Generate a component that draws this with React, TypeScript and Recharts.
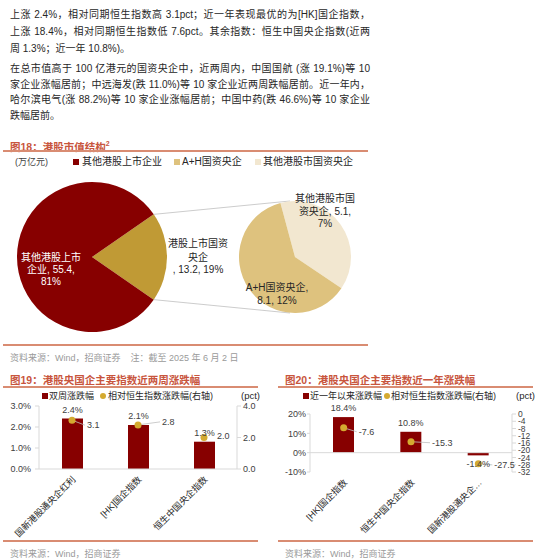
import React from 'react';
import {
  PieChart, Pie, Cell, ComposedChart, Bar, Scatter, XAxis, YAxis,
  LabelList, ReferenceLine, Customized,
} from 'recharts';

const FONT = '"Liberation Sans", "Noto Sans CJK SC", sans-serif';

// 图18 港股市值结构（万亿元）
const capNames = ['港股上市国资央企', '其他港股上市企业'];
const capValues = [13.2, 55.4];
const soeNames = ['其他港股市国资央企', 'A+H国资央企'];
const soeValues = [5.1, 8.1];

// 图19 近两周涨跌幅
const twoWeekIndex = ['国新港股通央企红利', '[HK]国企指数', '恒生中国央企指数'];
const twoWeekChg = [2.4, 2.1, 1.3];
const twoWeekRel = [3.1, 2.8, 2.0];

// 图20 近一年涨跌幅
const yearIndex = ['[HK]国企指数', '恒生中国央企指数', '国新港股通央企红利'];
const yearChg = [18.4, 10.8, -1.4];
const yearRel = [-7.6, -15.3, -27.5];

const leftTicks19 = [0, 1, 2, 3];
const rightTicks19 = [0, 2, 4];
const leftTicks20 = [-10, 0, 10, 20];
const rightTicks20 = [0, -4, -8, -12, -16, -20, -24, -28, -32];

const capTotal = capValues.reduce((a, b) => a + b, 0);
const capData = capNames.map((name, i) => ({ name, value: capValues[i] }));
const soeData = soeNames.map((name, i) => ({ name, value: soeValues[i] }));
const twoWeekData = twoWeekIndex.map((name, i) => ({ name, chg: twoWeekChg[i], rel: twoWeekRel[i] }));
const yearData = yearIndex.map((name, i) => ({ name, chg: yearChg[i], rel: yearRel[i] }));

const RED = '#870000';
const GOLD = '#C09A35';
const AH = '#DEC27E';
const LIGHT = '#F2E7D0';
const DOT = '#D4AA30';
const HEAD = '#C8553D';
const RULE = '#D98C72';
const GRID = '#D9D9D9';
const TXT = '#262626';

const BIG = { cx: 92, cy: 97, r: 75 };
const SMALL = { cx: 295, cy: 97, r: 56 };
const bigStart = -(capValues[0] / capTotal) * 180;

const pct = (v: number) => Math.round((v / capTotal) * 100) + '%';

const PieText = ({ x, ys, lines, fill = TXT }: any) => (
  <g>
    {lines.map((t: string, i: number) => (
      <text key={i} x={x} y={ys[i]} textAnchor="middle" dominantBaseline="central" fontSize={10} fill={fill}>
        {t}
      </text>
    ))}
  </g>
);

const capLabel = (p: any) => {
  if (p.index === 1) {
    return (
      <PieText x={p.cx - 41} ys={[p.cy, p.cy + 12, p.cy + 24]} fill="#fff"
        lines={[p.name.slice(0, 6), `${p.name.slice(6)}, ${p.value},`, pct(p.value)]} />
    );
  }
  return (
    <PieText x={p.cx + 106} ys={[p.cy - 14, p.cy, p.cy + 12]}
      lines={[p.name.slice(0, 6), p.name.slice(6), `, ${p.value}, ${pct(p.value)}`]} />
  );
};

const soeLabel = (p: any) => {
  if (p.index === 0) {
    return (
      <PieText x={p.cx + 30} ys={[p.cy - 59, p.cy - 46, p.cy - 34]}
        lines={[p.name.slice(0, 6), `${p.name.slice(6)}, ${p.value},`, pct(p.value)]} />
    );
  }
  return (
    <PieText x={p.cx - 18} ys={[p.cy + 30, p.cy + 43]}
      lines={[`${p.name},`, `${p.value}, ${pct(p.value)}`]} />
  );
};

// lines joining the split slice to the second pie
const Connectors = () => {
  const half = (capValues[0] / capTotal) * Math.PI;
  const x1 = BIG.cx + BIG.r * Math.cos(half);
  const dy = BIG.r * Math.sin(half);
  return (
    <g stroke="#BFBFBF" strokeWidth={0.8}>
      <line x1={x1} y1={BIG.cy - dy} x2={SMALL.cx - 5} y2={SMALL.cy - SMALL.r} />
      <line x1={x1} y1={BIG.cy + dy} x2={SMALL.cx - 5} y2={SMALL.cy + SMALL.r} />
    </g>
  );
};

const BarValue = (p: any) => {
  const x = Number(p.x), y = Number(p.y), w = Number(p.width), h = Number(p.height);
  const top = Math.min(y, y + h);
  const bottom = Math.max(y, y + h);
  const ty = p.value >= 0 ? top - 9 : bottom + 9;
  return (
    <text x={x + w / 2} y={ty} textAnchor="middle" dominantBaseline="central" fontSize={9} fill="#404040">
      {Number(p.value).toFixed(1)}%
    </text>
  );
};

// dot + leader + value; offsets are label placement only
const relShape = (cats: string[], offs: number[][], leaders: boolean[]) => (p: any) => {
  const i = cats.indexOf(p.payload.name);
  const [dx, dy] = offs[i];
  const lx = p.cx + dx;
  const ly = p.cy + dy;
  return (
    <g>
      {leaders[i] && <line x1={p.cx} y1={p.cy} x2={lx - 2} y2={ly} stroke="#BFBFBF" strokeWidth={0.8} />}
      <circle cx={p.cx} cy={p.cy} r={3.5} fill={DOT} />
      <text x={lx} y={ly} dominantBaseline="central" fontSize={9} fill="#404040">
        {Number(p.payload.rel).toFixed(1)}
      </text>
    </g>
  );
};

const CatTick = ({ x, y, payload, maxLen }: any) => {
  let s: string = payload.value;
  if (maxLen && s.length > maxLen) s = s.slice(0, maxLen - 1) + '…';
  const ax = x + 2;
  const ay = y + 1;
  return (
    <text x={ax} y={ay} transform={`rotate(-45, ${ax}, ${ay})`} textAnchor="end" dominantBaseline="central" fontSize={9} fill={TXT}>
      {s}
    </text>
  );
};

const Header = ({ left, top, width, children }: any) => (
  <>
    <div style={{ position: 'absolute', left: left + 7, top: top - 8, fontSize: 10.5, fontWeight: 'bold', color: HEAD, lineHeight: '16px', whiteSpace: 'nowrap' }}>
      {children}
    </div>
    <div style={{ position: 'absolute', left, top: top + 6, width, height: 2, background: RULE }} />
  </>
);

const Source = ({ left, top, width, text }: any) => (
  <>
    <div style={{ position: 'absolute', left, top: top - 8, width, height: 1.5, background: RULE }} />
    <div style={{ position: 'absolute', left: left + 7, top: top - 1, fontSize: 9, color: '#9A9A9A', lineHeight: '14px', whiteSpace: 'pre' }}>
      {text}
    </div>
  </>
);

const Abs = ({ left, top, children, style }: any) => (
  <div style={{ position: 'absolute', left, top, lineHeight: '12px', whiteSpace: 'nowrap', ...style }}>{children}</div>
);

const Square = ({ left, top, color }: any) => (
  <div style={{ position: 'absolute', left, top, width: 6, height: 6, background: color }} />
);

const Dot = ({ left, top }: any) => (
  <div style={{ position: 'absolute', left, top, width: 6, height: 6, borderRadius: 3, background: DOT }} />
);

const bodyLines = [
  { t: '上涨 2.4%，相对同期恒生指数高 3.1pct；近一年表现最优的为[HK]国企指数，', y: 15, j: true },
  { t: '上涨 18.4%，相对同期恒生指数低 7.6pct。其余指数：恒生中国央企指数(近两', y: 32, j: true },
  { t: '周 1.3%；近一年 10.8%)。', y: 48.5, j: false },
  { t: '在总市值高于 100 亿港元的国资央企中，近两周内，中国国航 (涨 19.1%)等 10', y: 69, j: true },
  { t: '家企业涨幅居前；中远海发(跌 11.0%)等 10 家企业近两周跌幅居前。近一年内，', y: 84.5, j: true },
  { t: '哈尔滨电气(涨 88.2%)等 10 家企业涨幅居前；中国中药(跌 46.6%)等 10 家企业', y: 100, j: true },
  { t: '跌幅居前。', y: 116, j: false },
];

const axisTick = { fontSize: 9, fill: '#404040' };

export default function App() {
  return (
    <div style={{ position: 'absolute', left: 0, top: 0, width: 550, height: 560, background: '#fff', fontFamily: FONT, overflow: 'hidden', color: TXT }}>
      {bodyLines.map((l, i) => (
        <div key={i} style={{
          position: 'absolute', left: 10, top: l.y - 8, width: 360, fontSize: 10, lineHeight: '16px',
          whiteSpace: 'nowrap', textAlign: l.j ? 'justify' : 'left', textAlignLast: l.j ? 'justify' : 'left',
        }}>
          {l.t}
        </div>
      ))}

      {/* 图18 */}
      <Header left={3} top={144} width={365}>图18：港股市值结构<sup style={{ fontSize: 7 }}>2</sup></Header>
      <Abs left={15} top={156} style={{ fontSize: 9, color: '#404040' }}>(万亿元)</Abs>
      <Square left={73} top={159} color={RED} />
      <Abs left={82} top={156} style={{ fontSize: 10 }}>{capNames[1]}</Abs>
      <Square left={174} top={159} color={AH} />
      <Abs left={182} top={156} style={{ fontSize: 10 }}>{soeNames[1]}</Abs>
      <Square left={255} top={159} color={LIGHT} />
      <Abs left={263} top={156} style={{ fontSize: 10 }}>{soeNames[0]}</Abs>
      <div style={{ position: 'absolute', left: 0, top: 160 }}>
        <PieChart width={370} height={180} margin={{ top: 0, right: 0, bottom: 0, left: 0 }}>
          <Customized component={Connectors} />
          <Pie data={capData} dataKey="value" nameKey="name" cx={BIG.cx} cy={BIG.cy} outerRadius={BIG.r}
            startAngle={bigStart} endAngle={bigStart + 360} stroke="none" label={capLabel} labelLine={false}
            isAnimationActive={false}>
            <Cell fill={GOLD} />
            <Cell fill={RED} />
          </Pie>
          <Pie data={soeData} dataKey="value" nameKey="name" cx={SMALL.cx} cy={SMALL.cy} outerRadius={SMALL.r}
            startAngle={-34} endAngle={326} stroke="none" label={soeLabel} labelLine={false}
            isAnimationActive={false}>
            <Cell fill={LIGHT} />
            <Cell fill={AH} />
          </Pie>
        </PieChart>
      </div>
      <Source left={3} top={352} width={365} text={'资料来源：Wind，招商证券    注：截至 2025 年 6 月 2 日'} />

      {/* 图19 */}
      <Header left={3} top={380} width={255}>图19：港股央国企主要指数近两周涨跌幅</Header>
      <Square left={42} top={393} color={RED} />
      <Abs left={49} top={390} style={{ fontSize: 9 }}>双周涨跌幅</Abs>
      <Dot left={100} top={393} />
      <Abs left={108} top={390} style={{ fontSize: 9 }}>相对恒生指数涨跌幅(右轴)</Abs>
      <Abs left={241} top={390} style={{ fontSize: 9.5 }}>(pct)</Abs>
      <div style={{ position: 'absolute', left: 0, top: 400 }}>
        <ComposedChart width={262} height={140} data={twoWeekData} margin={{ top: 6, right: 0, bottom: 0, left: 0 }}>
          <XAxis dataKey="name" height={71} interval={0} axisLine={{ stroke: GRID }} tickLine={false}
            tick={(p: any) => <CatTick {...p} />} />
          <YAxis yAxisId="left" width={39} domain={[0, 3]} ticks={leftTicks19} interval={0}
            tickFormatter={(v: number) => v.toFixed(1) + '%'} tick={axisTick}
            axisLine={{ stroke: GRID }} tickLine={{ stroke: GRID }} tickSize={4} tickMargin={4} />
          <YAxis yAxisId="right" orientation="right" width={25} domain={[0, 4]} ticks={rightTicks19} interval={0}
            tickFormatter={(v: number) => v.toFixed(1)} tick={axisTick}
            axisLine={{ stroke: GRID }} tickLine={{ stroke: GRID }} tickSize={4} tickMargin={2} />
          <Bar yAxisId="left" dataKey="chg" fill={RED} barSize={21} isAnimationActive={false}>
            <LabelList dataKey="chg" content={BarValue} />
          </Bar>
          <Scatter yAxisId="right" dataKey="rel" isAnimationActive={false}
            shape={relShape(twoWeekIndex, [[15, 5], [24, -3], [13, -2]], [true, true, false])} />
        </ComposedChart>
      </div>
      <Source left={3} top={548} width={255} text={'资料来源：Wind，招商证券'} />

      {/* 图20 */}
      <Header left={278} top={380} width={255}>图20：港股央国企主要指数近一年涨跌幅</Header>
      <Square left={303} top={393} color={RED} />
      <Abs left={310} top={390} style={{ fontSize: 9 }}>近一年以来涨跌幅</Abs>
      <Dot left={384} top={393} />
      <Abs left={391} top={390} style={{ fontSize: 9 }}>相对恒生指数涨跌幅(右轴)</Abs>
      <Abs left={516} top={390} style={{ fontSize: 9.5 }}>(pct)</Abs>
      <div style={{ position: 'absolute', left: 275, top: 400 }}>
        <ComposedChart width={262} height={138} data={yearData} margin={{ top: 14, right: 0, bottom: 0, left: 0 }}>
          <XAxis dataKey="name" height={66} interval={0} axisLine={false} tickLine={false}
            tick={(p: any) => <CatTick {...p} maxLen={8} />} />
          <YAxis yAxisId="left" width={35} domain={[-10, 20]} ticks={leftTicks20} interval={0}
            tickFormatter={(v: number) => v + '%'} tick={axisTick}
            axisLine={{ stroke: GRID }} tickLine={{ stroke: GRID }} tickSize={3} tickMargin={1} />
          <YAxis yAxisId="right" orientation="right" width={25} domain={[-32, 0]} ticks={rightTicks20} interval={0}
            tick={{ fontSize: 8.5, fill: '#404040' }} axisLine={{ stroke: GRID }} tickLine={{ stroke: GRID }}
            tickSize={4} tickMargin={2} />
          <ReferenceLine yAxisId="left" y={0} stroke={GRID} />
          <Bar yAxisId="left" dataKey="chg" fill={RED} barSize={21} isAnimationActive={false}>
            <LabelList dataKey="chg" content={BarValue} />
          </Bar>
          <Scatter yAxisId="right" dataKey="rel" isAnimationActive={false}
            shape={relShape(yearIndex, [[15, 4], [21, 1], [16, 1]], [true, true, true])} />
        </ComposedChart>
      </div>
      <Source left={278} top={548} width={255} text={'资料来源：Wind，招商证券'} />
    </div>
  );
}
